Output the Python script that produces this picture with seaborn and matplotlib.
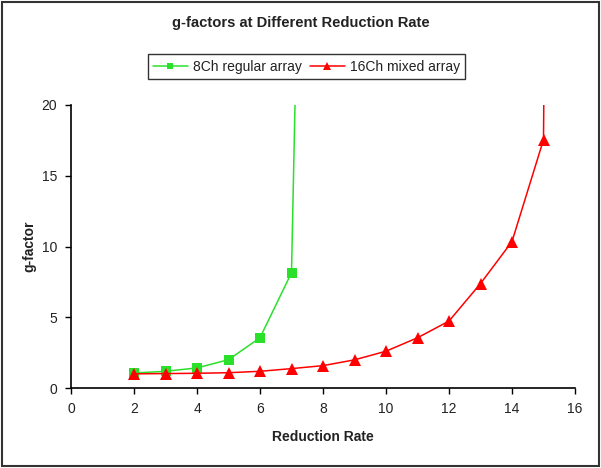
import matplotlib
matplotlib.use("Agg")
import matplotlib.pyplot as plt
from matplotlib.patches import Rectangle
import seaborn as sns
import pandas as pd

# data (last point of each series lies far above the visible range)
x_8ch = [2, 3, 4, 5, 6, 7, 8]
g_8ch = [1.06, 1.18, 1.42, 2.0, 3.55, 8.15, 115.0]
x_16ch = [2, 3, 4, 5, 6, 7, 8, 9, 10, 11, 12, 13, 14, 15, 16]
g_16ch = [1.0, 1.02, 1.04, 1.08, 1.18, 1.37, 1.58, 1.99, 2.6, 3.55, 4.73, 7.38, 10.35, 17.55, 300.0]
series_names = ["8Ch regular array", "16Ch mixed array"]

title = "g-factors at Different Reduction Rate"
xlabel = "Reduction Rate"
ylabel = "g-factor"
xticks = [0, 2, 4, 6, 8, 10, 12, 14, 16]
yticks = [0, 5, 10, 15, 20]

sns.set_theme(style="ticks")
plt.rcParams["font.family"] = ["Liberation Sans", "DejaVu Sans"]

df = pd.concat([
    pd.DataFrame({"x": x_8ch, "g": g_8ch, "series": series_names[0]}),
    pd.DataFrame({"x": x_16ch, "g": g_16ch, "series": series_names[1]}),
])

fig = plt.figure(figsize=(6.01, 4.68), dpi=100)
ax = fig.add_axes([71/601, 1-388/468, (575-71)/601, (388-105)/468])

sns.lineplot(data=df[df.series == series_names[0]], x="x", y="g", ax=ax,
             color="#2be02b", marker="s", markersize=7, markeredgewidth=0,
             linewidth=1.1, label=series_names[0])
sns.lineplot(data=df[df.series == series_names[1]], x="x", y="g", ax=ax,
             color="#ff0000", marker="^", markersize=8.5, markeredgewidth=0,
             linewidth=1.1, label=series_names[1])

ax.set_xlim(0, 16)
ax.set_ylim(0, 20)
ax.set_xticks(xticks)
ax.set_yticks(yticks)
ax.tick_params(axis="both", labelsize=10, length=4, width=1, color="black",
               labelcolor="#222222", direction="out", pad=6)
for s in ["top", "right"]:
    ax.spines[s].set_visible(False)
for s in ["left", "bottom"]:
    ax.spines[s].set_color("black")
    ax.spines[s].set_linewidth(1.2)

ax.set_xlabel(xlabel, fontsize=10, fontweight="bold", color="#222222", labelpad=10)
ax.set_ylabel(ylabel, fontsize=10, fontweight="bold", color="#222222", labelpad=3.5)

ax.legend_.remove()
handles, labels = ax.get_legend_handles_labels()
leg = fig.legend(handles, labels, loc="center", bbox_to_anchor=(306.5/601, 1-66.5/468),
                 ncol=2, frameon=True, fancybox=False, edgecolor="black",
                 fontsize=10, markerscale=0.6, handlelength=2.5, columnspacing=0.6,
                 handletextpad=0.36, borderpad=0.4)
leg.get_frame().set_linewidth(1.0)
for t in leg.get_texts():
    t.set_color("#222222")

fig.text(0.5, 1-23/468, title, ha="center", va="center", fontsize=10.6,
         fontweight="bold", color="#222222")

fig.patches.append(Rectangle((0.004, 0.005), 0.992, 0.99, transform=fig.transFigure,
                             fill=False, edgecolor="#333333", linewidth=1.5))

fig.savefig("out.png", dpi=100)
